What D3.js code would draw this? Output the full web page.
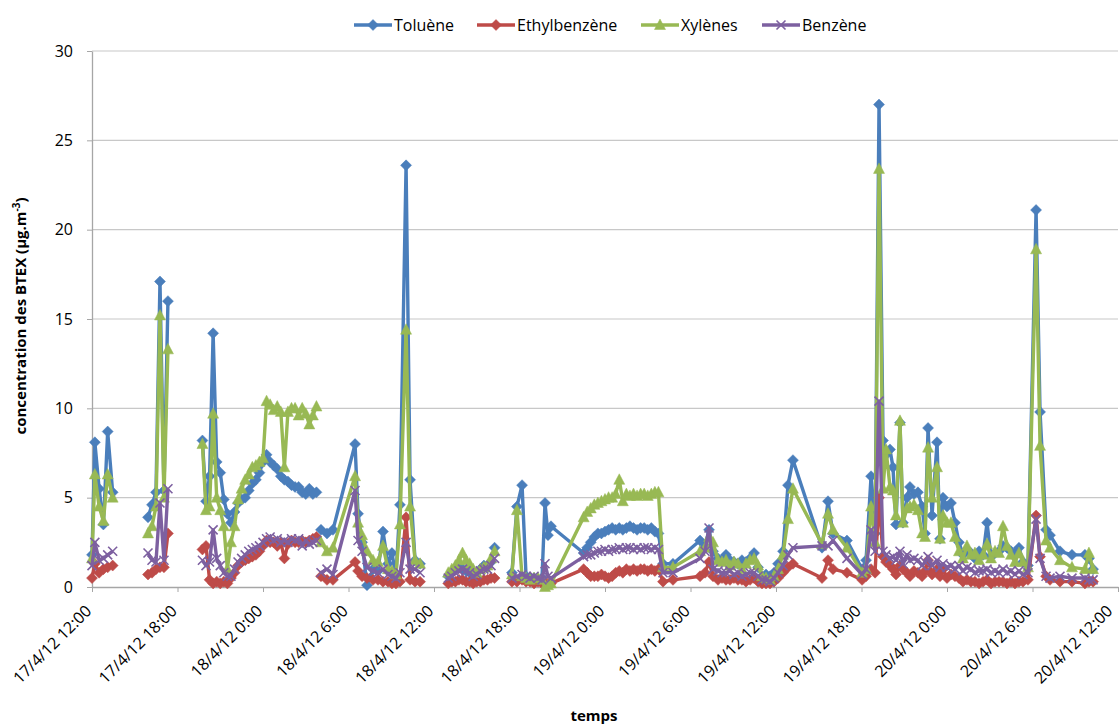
<!doctype html>
<html>
<head>
<meta charset="utf-8">
<style>
  body { margin: 0; background: #fff; }
  svg text { font-family: "Open Sans", "Liberation Sans", sans-serif; fill: #000; }
</style>
<script src="https://d3js.org/d3.v7.min.js"></script>
</head>
<body>
<svg width="1120" height="724"></svg>
<script>
// hours elapsed since 17/4/12 12:00 ; a null value breaks the lines (no measure)
var hours = [
  0.0, 0.2, 0.5, 0.8, 1.1, 1.45, 2.5,
  3.93, 4.21, 4.49, 4.77, 5.05, 5.33, 6.5,
  7.75, 8.0, 8.25, 8.5, 8.75, 9.0, 9.25, 9.5, 9.75, 10.0, 10.25, 10.5, 10.75, 11.0, 11.25, 11.5, 11.75, 12.0, 12.25, 12.5, 12.75, 13.0, 13.25, 13.5, 13.75, 14.0, 14.25, 14.5, 14.75, 15.0, 15.25, 15.5, 15.75, 15.9,
  16.07, 16.49, 16.91, 18.46, 18.67, 18.95, 19.30, 19.72, 20.07, 20.42, 20.77, 21.05, 21.33, 21.61, 22.04, 22.32, 22.67, 23.02, 24.0,
  25.0, 25.25, 25.5, 25.75, 26.0, 26.25, 26.5, 26.75, 27.0, 27.25, 27.5, 27.75, 28.0, 28.25, 28.9,
  29.47, 29.82, 30.18, 30.46, 30.74, 31.02, 31.30, 31.58, 31.79, 32.0, 32.21,
  34.5, 34.75, 35.0, 35.25, 35.5, 35.75, 36.0, 36.25, 36.5, 36.75, 37.0, 37.25, 37.5, 37.75, 38.0, 38.25, 38.5, 38.75, 39.0, 39.25, 39.5, 39.75,
  40.07, 40.77, 42.67, 43.02, 43.30, 43.58, 43.93, 44.21, 44.49, 44.77, 45.05, 45.33, 45.61, 45.89, 46.18, 46.46, 46.74, 47.02, 47.30, 47.58, 47.86, 48.14, 48.49, 48.84, 49.19, 51.23, 51.65, 52.0, 52.98,
  54.04, 54.32, 54.67, 54.95, 55.23, 55.51, 55.72, 56.0, 56.21, 56.42, 56.7, 56.91, 57.19, 57.4, 57.68, 57.96, 58.25, 58.46, 58.67, 58.95, 59.3, 59.51, 59.72, 60.0, 60.28, 60.56,
  60.84, 61.12, 61.4, 61.68, 61.96, 62.25, 62.53, 62.81, 63.09, 63.37, 63.65, 63.93, 64.21, 64.49, 64.77, 65.05, 65.33, 65.68, 66.25, 66.53, 66.95, 67.23, 67.93, 68.77, 69.68, 69.96, 70.25
];

var toluene = [
  1.8, 8.1, 5.5, 3.5, 8.7, 5.3, null,
  3.9, 4.6, 5.3, 17.1, 5.4, 16.0, null,
  8.2, 4.8, 6.2, 14.2, 7.0, 6.4, 4.9, 4.1, 3.6, 4.2, 4.7, 4.9, 5.0, 5.4, 5.8, 6.0, 6.4, 7.0, 7.4, 7.0, 6.8, 6.6, 6.2, 6.0, 5.9, 5.7, 5.6, 5.6, 5.3, 5.2, 5.5, 5.2, 5.3, null,
  3.2, 3.0, 3.2, 8.0, 4.1, 2.5, 0.1, 1.0, 0.9, 3.1, 1.3, 1.9, 0.6, 4.6, 23.6, 6.0, 1.5, 1.3, null,
  0.6, 0.8, 1.0, 1.2, 1.0, 0.9, 0.8, 0.7, 0.8, 1.0, 1.2, 1.1, 1.4, 2.2, null,
  0.8, 4.5, 5.7, 0.6, 0.5, 0.5, 0.4, 0.5, 4.7, 2.9, 3.4,
  1.9, 2.2, 2.5, 2.8, 3.0, 3.0, 3.1, 3.2, 3.3, 3.2, 3.3, 3.2, 3.3, 3.4, 3.3, 3.2, 3.3, 3.3, 3.2, 3.3, 3.1, 3.0,
  1.3, 1.3, 2.6, 2.3, 3.2, 2.0, 1.6, 1.5, 1.8, 1.5, 1.4, 1.3, 1.5, 1.4, 1.6, 1.9, 1.1, 0.6, 0.7, 0.6, 0.8, 1.3, 2.0, 5.7, 7.1, 2.2, 4.8, 3.0, 2.6,
  1.0, 1.5, 6.2, 3.0, 27.0, 8.2, 7.4, 7.7, 6.7, 3.5, 9.2, 3.6, 5.0, 5.6, 5.2, 5.3, 4.5, 3.0, 8.9, 4.0, 8.1, 2.7, 5.0, 4.5, 4.7, 3.6,
  2.5, 1.8, 2.1, 1.9, 1.6, 2.0, 1.8, 3.6, 1.7, 1.9, 2.0, 2.3, 2.2, 2.0, 1.9, 2.2, 1.4, 1.2, 21.1, 9.8, 3.2, 2.9, 2.0, 1.8, 1.8, 1.6, 1.0
];

var ethylbenzene = [
  0.5, 1.3, 0.8, 1.0, 1.1, 1.2, null,
  0.7, 0.8, 1.0, 1.1, 1.1, 3.0, null,
  2.1, 2.3, 0.4, 0.2, 0.3, 0.2, 0.3, 0.2, 0.5, 0.8, 1.2, 1.4, 1.5, 1.6, 1.7, 1.8, 2.0, 2.3, 2.6, 2.5, 2.5, 2.3, 2.5, 1.6, 2.4, 2.6, 2.5, 2.5, 2.6, 2.5, 2.6, 2.7, 2.8, null,
  0.6, 0.4, 0.4, 1.4, 0.9, 0.6, 0.5, 0.4, 0.4, 0.3, 0.3, 0.2, 0.2, 0.3, 3.9, 0.4, 0.3, 0.3, null,
  0.2, 0.3, 0.3, 0.4, 0.4, 0.3, 0.3, 0.2, 0.3, 0.3, 0.4, 0.4, 0.5, 0.5, null,
  0.3, 0.3, 0.4, 0.3, 0.3, 0.2, 0.3, 0.2, 0.2, 0.2, 0.2,
  1.0, 0.8, 0.6, 0.6, 0.6, 0.7, 0.6, 0.5, 0.6, 0.8, 0.9, 0.8, 1.0, 0.9, 1.0, 0.9, 1.0, 1.0, 0.9, 1.0, 0.9, 1.0,
  0.3, 0.4, 0.6, 0.8, 1.4, 0.6, 0.4, 0.5, 0.4, 0.4, 0.5, 0.4, 0.4, 0.3, 0.4, 0.5, 0.3, 0.2, 0.2, 0.2, 0.3, 0.5, 0.8, 1.1, 1.3, 0.5, 1.5, 1.0, 0.8,
  0.4, 0.6, 1.0, 0.8, 5.0, 1.7, 1.4, 1.2, 1.0, 0.7, 1.2, 1.0, 0.8, 0.6, 0.9, 0.8, 0.6, 0.9, 1.5, 0.7, 1.0, 0.6, 1.0, 0.5, 0.7, 0.6,
  0.5, 0.3, 0.4, 0.3, 0.3, 0.2, 0.3, 0.4, 0.2, 0.3, 0.3, 0.3, 0.2, 0.3, 0.2, 0.3, 0.3, 0.4, 4.0, 1.7, 0.6, 0.4, 0.3, 0.3, 0.2, 0.3, 0.3
];

var xylenes = [
  1.6, 6.3, 4.5, 3.7, 6.3, 5.0, null,
  3.0, 3.4, 4.5, 15.2, 5.0, 13.3, null,
  8.0, 4.3, 4.5, 9.7, 5.0, 4.3, 3.4, 1.0, 2.5, 3.4, 4.9, 5.5, 6.0, 6.3, 6.7, 6.8, 7.0, 7.2, 10.4, 10.2, 9.9, 10.1, 9.8, 6.7, 9.8, 10.0, 10.0, 9.6, 10.0, 9.7, 9.1, 9.6, 10.1, null,
  2.5, 2.0, 2.2, 6.2, 3.6, 2.9, 2.0, 1.5, 1.4, 2.3, 1.0, 0.9, 0.7, 3.5, 14.4, 4.5, 1.5, 1.3, null,
  0.8, 1.0, 1.2, 1.5, 1.9, 1.5, 1.3, 1.0, 0.8, 1.0, 1.1, 1.2, 1.6, 2.0, null,
  0.7, 4.3, 0.6, 0.5, 0.4, 0.5, 0.5, 0.4, 0.0, 0.1, 0.2,
  3.9, 4.2, 4.4, 4.6, 4.7, 4.8, 4.9, 5.0, 5.0, 5.2, 6.0, 4.8, 5.2, 5.1, 5.2, 5.1, 5.2, 5.2, 5.1, 5.2, 5.3, 5.3,
  1.1, 1.1, 2.0, 2.2, 2.8, 2.5, 1.5, 1.4, 1.5, 1.2, 1.4, 1.3, 1.0, 1.3, 1.5, 1.6, 1.2, 0.6, 0.5, 0.4, 0.6, 1.0, 1.8, 3.8, 5.5, 2.4, 4.1, 3.2, 2.2,
  0.8, 1.0, 4.5, 2.5, 23.4, 5.5, 7.7, 5.6, 5.4, 4.0, 9.3, 3.6, 4.4, 4.5, 4.6, 4.3, 3.0, 2.8, 7.8, 5.0, 6.7, 2.7, 4.0, 3.6, 3.6, 2.8,
  2.0, 1.6, 2.3, 1.8, 1.9, 1.5, 1.8, 2.4, 1.6, 2.0, 1.9, 3.4, 2.3, 1.8, 1.4, 1.9, 1.4, 1.1, 18.9, 7.9, 2.6, 2.2, 1.5, 1.1, 1.0, 1.9, 1.0
];

var benzene = [
  1.2, 2.5, 1.5, 1.6, 1.8, 2.0, null,
  1.9, 1.5, 1.4, 4.7, 1.5, 5.5, null,
  1.5, 1.2, 1.4, 3.2, 1.6, 1.2, 0.8, 0.6, 0.6, 1.0, 1.4, 1.6, 1.8, 2.0, 2.1, 2.2, 2.3, 2.5, 2.7, 2.8, 2.6, 2.7, 2.5, 2.6, 2.5, 2.7, 2.6, 2.7, 2.3, 2.6, 2.4, 2.5, 2.6, null,
  0.8, 1.0, 0.7, 5.4, 2.6, 2.0, 1.1, 0.9, 0.8, 1.0, 0.7, 0.6, 0.5, 0.8, 2.5, 1.0, 1.0, 0.8, null,
  0.5, 0.6, 0.8, 0.9, 1.0, 0.9, 0.8, 0.6, 0.7, 0.9, 1.0, 1.0, 1.2, 1.6, null,
  0.5, 0.6, 0.7, 0.6, 0.5, 0.6, 0.5, 0.4, 1.3, 0.6, 0.5,
  1.7, 1.8, 1.8, 1.9, 2.0, 2.0, 2.1, 2.0, 2.1, 2.1, 2.2, 2.1, 2.2, 2.2, 2.1, 2.2, 2.1, 2.2, 2.2, 2.1, 2.2, 2.1,
  0.8, 0.8, 1.6, 2.0, 3.3, 1.0, 0.9, 0.8, 0.8, 0.9, 0.7, 0.8, 0.6, 0.7, 0.8, 0.8, 0.6, 0.4, 0.4, 0.3, 0.5, 0.8, 1.2, 1.8, 2.2, 2.3, 2.3, 2.6, 1.6,
  0.7, 1.0, 3.2, 2.0, 10.4, 2.0, 1.8, 1.6, 1.7, 1.5, 2.0, 1.3, 1.8, 1.5, 1.6, 1.5, 1.2, 1.4, 1.7, 1.2, 1.5, 1.1, 1.3, 1.1, 1.2, 1.0,
  1.2, 0.9, 1.1, 1.0, 0.8, 0.9, 0.9, 1.0, 0.8, 0.9, 0.8, 1.0, 0.8, 0.9, 0.7, 0.9, 0.7, 0.8, 3.8, 1.6, 0.6, 0.5, 0.6, 0.5, 0.5, 0.4, 0.4
];

var seriesNames = ["Toluène", "Ethylbenzène", "Xylènes", "Benzène"];
var seriesColors = ["#4A7EBB", "#BE4B48", "#98B954", "#7D60A0"];
var seriesMarkers = ["diamond", "diamond", "triangle", "cross"];
var yTicks = [0, 5, 10, 15, 20, 25, 30];

var svg = d3.select("svg"),
    plotLeft = 92, plotRight = 1118, plotTop = 51, plotBottom = 587;

var start = new Date(2012, 3, 17, 12, 0),
    end = new Date(2012, 3, 20, 12, 0);

var x = d3.scaleTime().domain([start, end]).range([plotLeft, plotRight]),
    y = d3.scaleLinear().domain([0, 30]).range([plotBottom, plotTop]);

function toDate(h) { return new Date(start.getTime() + h * 3600e3); }

// gridlines
svg.append("g")
   .selectAll("line")
   .data(yTicks.slice(1))
   .enter().append("line")
   .attr("x1", plotLeft).attr("x2", plotRight)
   .attr("y1", function(d) { return y(d); })
   .attr("y2", function(d) { return y(d); })
   .attr("stroke", "#c8c8c8")
   .attr("stroke-width", 1.2);

// y axis
var yAxis = svg.append("g")
   .attr("transform", "translate(" + plotLeft + ",0)")
   .call(d3.axisLeft(y).tickValues(yTicks).tickSize(5).tickPadding(14).tickSizeOuter(0));
yAxis.select(".domain").attr("stroke", "#a6a6a6").attr("stroke-width", 1.3);
yAxis.selectAll(".tick line").attr("stroke", "#a6a6a6");
yAxis.selectAll(".tick text").attr("font-size", "16px").attr("fill", "#000");

// x axis
function fmt(d) {
  var m = d.getMinutes();
  return d.getDate() + "/" + (d.getMonth() + 1) + "/12 " + d.getHours() + ":" + (m < 10 ? "0" + m : m);
}
var xAxis = svg.append("g")
   .attr("transform", "translate(0," + plotBottom + ")")
   .call(d3.axisBottom(x).ticks(d3.timeHour.every(6)).tickFormat(fmt).tickSize(5).tickSizeOuter(0));
xAxis.select(".domain").attr("stroke", "#a6a6a6").attr("stroke-width", 1.3);
xAxis.selectAll(".tick line").attr("stroke", "#a6a6a6");
var nTicks = xAxis.selectAll(".tick text").size();
xAxis.selectAll(".tick text")
   .attr("font-size", "16px")
   .attr("fill", "#000")
   .attr("text-anchor", "end")
   .attr("dy", null)
   .attr("y", 0)
   .attr("transform", function(d, i) {
     // the last label sits at the right edge of the picture
     return i == nTicks - 1 ? "translate(-5,25) rotate(-45)" : "translate(0,25) rotate(-45)";
   });

// series
var allSeries = [toluene, ethylbenzene, xylenes, benzene];

var line = d3.line()
   .defined(function(d) { return d.v != null; })
   .x(function(d) { return x(d.t); })
   .y(function(d) { return y(d.v); });

function markerPath(kind) {
  if (kind == "diamond") return "M0,-5.5L5.5,0L0,5.5L-5.5,0Z";
  if (kind == "triangle") return "M0,-6L5.5,4.5L-5.5,4.5Z";
  return "M-4.5,-4.5L4.5,4.5M-4.5,4.5L4.5,-4.5";
}

allSeries.forEach(function(vals, i) {
  var pts = hours.map(function(h, j) { return { t: toDate(h), v: vals[j] }; });
  var g = svg.append("g");
  g.append("path")
   .datum(pts)
   .attr("fill", "none")
   .attr("stroke", seriesColors[i])
   .attr("stroke-width", 3.4)
   .attr("stroke-linejoin", "round")
   .attr("d", line);
  var kind = seriesMarkers[i];
  g.selectAll(".m")
   .data(pts.filter(function(d) { return d.v != null; }))
   .enter().append("path")
   .attr("transform", function(d) { return "translate(" + x(d.t) + "," + y(d.v) + ")"; })
   .attr("d", markerPath(kind))
   .attr("fill", kind == "cross" ? "none" : seriesColors[i])
   .attr("stroke", seriesColors[i])
   .attr("stroke-width", kind == "cross" ? 1.6 : 0.5);
});

// legend
var legendX = [354, 477, 641, 762];
seriesNames.forEach(function(name, i) {
  var g = svg.append("g").attr("transform", "translate(" + legendX[i] + ",25)");
  g.append("line").attr("x1", 0).attr("x2", 38).attr("y1", 0).attr("y2", 0)
   .attr("stroke", seriesColors[i]).attr("stroke-width", 3.4);
  g.append("path").attr("transform", "translate(19,0)")
   .attr("d", markerPath(seriesMarkers[i]))
   .attr("fill", seriesMarkers[i] == "cross" ? "none" : seriesColors[i])
   .attr("stroke", seriesColors[i])
   .attr("stroke-width", seriesMarkers[i] == "cross" ? 1.6 : 0.5);
  g.append("text").attr("x", 40).attr("y", 6).attr("font-size", "16px").text(name);
});

// axis titles
svg.append("text")
   .attr("x", 594).attr("y", 721)
   .attr("text-anchor", "middle")
   .attr("font-size", "15px").attr("font-weight", "bold")
   .text("temps");

var yt = svg.append("text")
   .attr("transform", "translate(26,316) rotate(-90)")
   .attr("text-anchor", "middle")
   .attr("font-size", "15px").attr("font-weight", "bold");
yt.append("tspan").text("concentration des BTEX (µg.m");
yt.append("tspan").attr("dy", -6).attr("font-size", "10px").text("-3");
yt.append("tspan").attr("dy", 6).text(")");
</script>
</body>
</html>
